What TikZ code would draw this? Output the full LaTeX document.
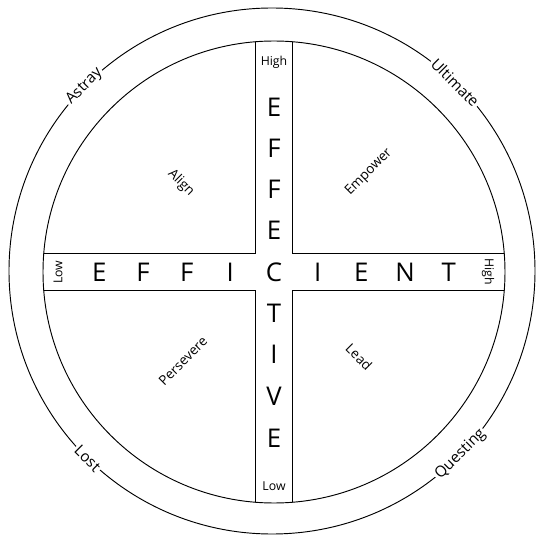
\documentclass[tikz,border=0pt]{standalone}
\usepackage{fontspec}
\setmainfont{Open Sans}
\usetikzlibrary{calc}

\begin{document}
\begin{tikzpicture}[
    bigletter/.style = {inner sep=0pt, font=\fontsize{22}{22}\selectfont},
    endlabel/.style  = {inner sep=1pt,  font=\fontsize{10.5}{11}\selectfont},
    quadlabel/.style = {inner sep=1pt,  font=\fontsize{11.5}{12}\selectfont},
    rimlabel/.style  = {fill=white, inner xsep=1.5pt, inner ysep=0pt,
                        font=\fontsize{13}{14}\selectfont},
    rim/.style       = {line width=0.8pt}
  ]
    \useasboundingbox (-8.22,-7.92) rectangle (7.89,8.16);
    \coordinate (mid)    at (0,0);
    \coordinate (outmid) at (-0.06,0.03);

    % rings
    \draw[rim] (outmid) circle (7.89);
    \draw[rim] (mid)    circle (6.93);

    % the four quarters, cut by the two bands
    \begin{scope}
      \clip (mid) circle (6.93);
      \draw[rim] (-0.56,8)  -- (-0.56,0.56)  -- (-8,0.56);
      \draw[rim] (0.56,8)   -- (0.56,0.56)   -- (8,0.56);
      \draw[rim] (-0.56,-8) -- (-0.56,-0.56) -- (-8,-0.56);
      \draw[rim] (0.56,-8)  -- (0.56,-0.56)  -- (8,-0.56);
    \end{scope}

    % horizontal band
    \node[bigletter] (hE1) at (-5.24,0) {E};
    \node[bigletter] (hF1) at (-3.93,0) {F};
    \node[bigletter] (hF2) at (-2.62,0) {F};
    \node[bigletter] (hI1) at (-1.31,0) {I};
    \node[bigletter] (cc)  at (0,0)     {C};
    \node[bigletter] (hI2) at (1.31,0)  {I};
    \node[bigletter] (hE2) at (2.62,0)  {E};
    \node[bigletter] (hN)  at (3.93,0)  {N};
    \node[bigletter] (hT)  at (5.24,0)  {T};
    \node[endlabel, rotate=90]  (hlow)  at (-6.48,0) {Low};
    \node[endlabel, rotate=-90] (hhigh) at (6.42,0)  {High};

    % vertical band
    \node[bigletter] (vE1) at (0,4.95)  {E};
    \node[bigletter] (vF1) at (0,3.72)  {F};
    \node[bigletter] (vF2) at (0,2.48)  {F};
    \node[bigletter] (vE2) at (0,1.24)  {E};
    \node[bigletter] (vT)  at (0,-1.24) {T};
    \node[bigletter] (vI)  at (0,-2.48) {I};
    \node[bigletter] (vV)  at (0,-3.72) {V};
    \node[bigletter] (vE3) at (0,-4.98) {E};
    \node[endlabel] (vhigh) at (0,6.3)   {High};
    \node[endlabel] (vlow)  at (0,-6.42) {Low};

    % quarters
    \node[quadlabel, rotate=-45] (align)     at (-2.79,2.67)  {Align};
    \node[quadlabel, rotate=45]  (empower)   at (2.85,3.0)    {Empower};
    \node[quadlabel, rotate=45]  (persevere) at (-2.73,-2.67) {Persevere};
    \node[quadlabel, rotate=-45] (lead)      at (2.55,-2.55)  {Lead};

    % outer ring
    \node[rimlabel, rotate=45]  (astray)   at ($(outmid)+(135.5:7.89)$) {Astray};
    \node[rimlabel, rotate=-45] (ultimate) at ($(outmid)+(45.8:7.89)$)  {Ultimate};
    \node[rimlabel, rotate=-45] (lost)     at ($(outmid)+(225.5:7.89)$) {Lost};
    \node[rimlabel, rotate=45]  (questing) at ($(outmid)+(-44.2:7.89)$) {Questing};
  \end{tikzpicture}
\end{document}
